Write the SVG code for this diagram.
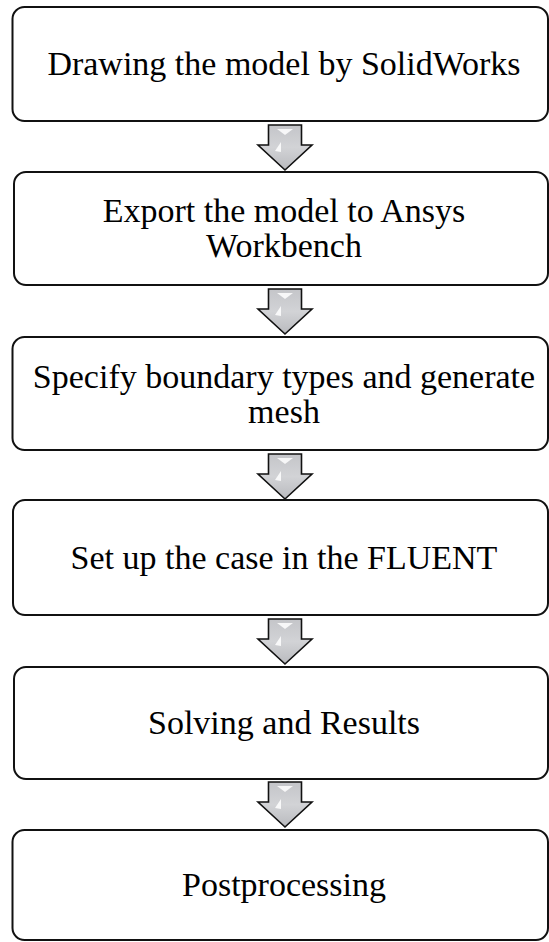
<svg xmlns="http://www.w3.org/2000/svg" width="549" height="942" viewBox="0 0 549 942">
<style>
.box{fill:#ffffff;stroke:#111111;stroke-width:2}
.lbl{font-family:"Liberation Serif","Times New Roman",serif;font-size:34px;fill:#000000;text-anchor:middle}
.arr{fill:url(#ag);stroke:#111111;stroke-width:1.6;stroke-linejoin:miter}
.hl{fill:#ffffff;opacity:0.85}
</style>
<defs>
<linearGradient id="ag" x1="0" y1="0" x2="0" y2="1">
<stop offset="0" stop-color="#c4c5c9"/>
<stop offset="0.5" stop-color="#d2d3d6"/>
<stop offset="1" stop-color="#b9babe"/>
</linearGradient>
<g id="arrow">
<path class="arr" d="M-16.5,0 H16.5 V20 H27 L0,45 L-27,20 H-16.5 Z"/>
<path class="hl" d="M-8,4 H8 L0,10 Z"/>
<path class="hl" d="M-4,17 V27 L-10,26 Z"/>
</g>
</defs>
<rect width="549" height="942" fill="#ffffff"/>
<g id="connectors">
<use href="#arrow" x="285" y="125"/>
<use href="#arrow" x="285" y="289"/>
<use href="#arrow" x="285" y="454"/>
<use href="#arrow" x="285" y="619"/>
<use href="#arrow" x="285" y="782"/>
</g>
<g id="n1">
<rect class="box" x="12.5" y="7" width="535.5" height="114" rx="12"/>
<text class="lbl" x="284" y="75">Drawing the model by SolidWorks</text>
</g>
<g id="n2">
<rect class="box" x="14" y="172" width="534" height="113" rx="12"/>
<text class="lbl" x="284" y="222">Export the model to Ansys</text>
<text class="lbl" x="284" y="257">Workbench</text>
</g>
<g id="n3">
<rect class="box" x="12.5" y="337" width="535.5" height="113" rx="12"/>
<text class="lbl" x="284" y="388">Specify boundary types and generate</text>
<text class="lbl" x="284" y="423">mesh</text>
</g>
<g id="n4">
<rect class="box" x="13" y="500" width="535" height="115" rx="12"/>
<text class="lbl" x="284" y="569">Set up the case in the FLUENT</text>
</g>
<g id="n5">
<rect class="box" x="14" y="667" width="534" height="112" rx="12"/>
<text class="lbl" x="284" y="734">Solving and Results</text>
</g>
<g id="n6">
<rect class="box" x="12.5" y="830" width="535.5" height="110" rx="12"/>
<text class="lbl" x="284" y="896">Postprocessing</text>
</g>
</svg>
